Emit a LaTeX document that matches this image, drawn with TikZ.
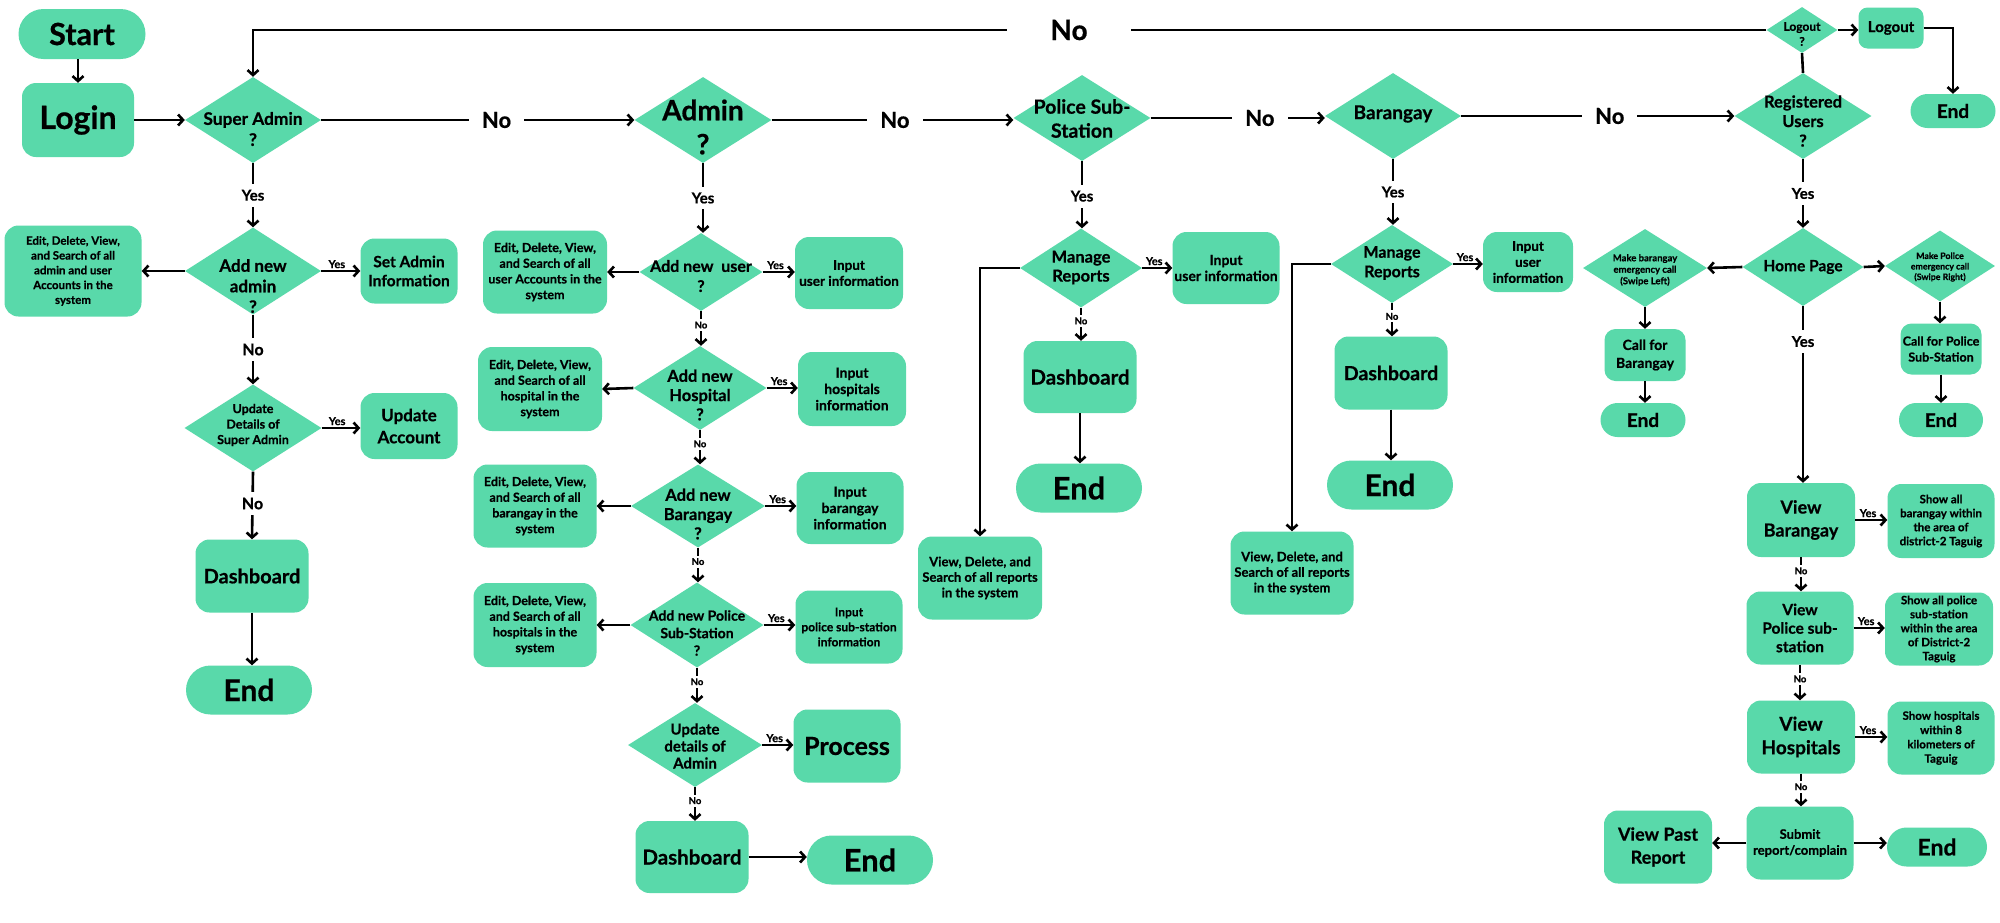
\documentclass[tikz,border=0pt]{standalone}
\usepackage{fontspec}
\setmainfont{Lato}[BoldFeatures={FakeBold=0.6}]
\usetikzlibrary{shapes.geometric,shapes.misc,arrows.meta}
\definecolor{mint}{HTML}{59D9AA}
\newcommand\myfs[2]{\fontsize{#1}{#2}\selectfont\bfseries}
\tikzset{
  sz/.style 2 args={minimum width=#1pt, minimum height=#2pt},
  box/.style={rectangle, rounded corners=14pt, fill=mint, draw=none, align=center, inner sep=1pt},
  pill/.style={rounded rectangle, fill=mint, draw=none, align=center, inner sep=1pt},
  dia/.style={diamond, fill=mint, draw=none, inner sep=0pt},
  dtxt/.style={align=center, inner sep=0pt},
  ln/.style={line width=2.6pt},
  arr/.style={line width=2.6pt, -{Straight Barb[length=5pt,width=11pt]}},
  notop/.style={fill=white, font=\myfs{28}{32}, inner xsep=43pt, inner ysep=2pt},
  nob/.style={fill=white, font=\myfs{22}{26}, inner xsep=13pt, inner ysep=2pt},
  yesb/.style={fill=white, font=\myfs{15}{18}, inner xsep=2pt, inner ysep=6pt},
  yess/.style={above, font=\myfs{11}{13}, inner sep=1.5pt},
  nos/.style={fill=white, font=\myfs{9.5}{11}, inner xsep=1pt, inner ysep=2.5pt},
}
\begin{document}
\begin{tikzpicture}[x=1pt,y=-1pt]
\fill[white] (0,0) rectangle (2000,922);
\useasboundingbox (0,0) rectangle (2000,922);

%% ---------------- Column 1 : Super Admin ----------------
\node[pill, sz={129}{50}, font=\myfs{30.5}{34}] (start) at (82,34) {Start};
\node[box, sz={112}{74}, font=\myfs{32}{36}] (login) at (78,120) {Login};
\node[dia, sz={136}{86}] (sa) at (253,120) {};
\node[dtxt, font=\myfs{17.3}{21}] (sat) at (253,129) {Super Admin\\?};
\node[dia, sz={136}{87}] (ana) at (253,271) {};
\node[dtxt, font=\myfs{17}{20.5}] (anat) at (253,286) {Add new\\admin\\?};
\node[box, sz={137}{91}, font=\myfs{11.5}{14.8}] (sae) at (73,271) {Edit, Delete, View,\\and Search of all\\admin and user\\Accounts in the\\system};
\node[box, sz={97}{65}, font=\myfs{15.5}{19}] (sai) at (409,271) {Set Admin\\Information};
\node[dia, sz={137}{87}] (uds) at (253,428) {};
\node[dtxt, font=\myfs{12.5}{15.5}] (udst) at (253,425) {Update\\Details of\\Super Admin};
\node[box, sz={97}{66}, font=\myfs{17}{22}] (uac) at (409,426) {Update\\Account};
\node[box, sz={113}{73}, font=\myfs{20}{24}] (sdb) at (252,576) {Dashboard};
\node[pill, sz={128}{49}, font=\myfs{30}{32}] (send) at (249,690) {End};

\draw[arr] (login.north |- start.south) -- (login.north);
\draw[arr] (login.east) -- (login.east -| sa.west);
\draw[arr] (sa.south) -- node[yesb] (y1) {Yes} (ana.north);
\draw[arr] (ana.west) -- (sae.east);
\draw[arr] (ana.east) -- node[yess, pos=0.4] (y2) {Yes} (sai.west);
\draw[arr] (ana.south) -- node[yesb, font=\myfs{16}{19}] (n1) {No} (uds.north);
\draw[arr] (uds.east) -- node[yess, pos=0.4] (y3) {Yes} (uds.east -| uac.west);
\draw[arr] (uds.south) -- node[yesb, font=\myfs{16}{19}, pos=0.47] (n2) {No} (sdb.north);
\draw[arr] (sdb.south) -- (sdb.south |- send.north);

%% ---------------- Column 2 : Admin ----------------
\node[dia, sz={137}{86}] (adm) at (703,120) {};
\node[dtxt, font=\myfs{28}{34}] (admt) at (703,127) {Admin\\?};
\node[dia, sz={123}{78}] (anu) at (701,272) {};
\node[dtxt, font=\myfs{16}{20}] (anut) at (701,276) {Add new\ \ user\\?};
\node[box, sz={124}{83}, font=\myfs{12.5}{15.7}] (ae1) at (545,272) {Edit, Delete, View,\\and Search of all\\user Accounts in the\\system};
\node[box, sz={108}{72}, font=\myfs{13.5}{16}] (ai1) at (849,273) {Input\\user information};
\node[dia, sz={133}{84}] (anh) at (700,388) {};
\node[dtxt, font=\myfs{16.5}{19.3}] (anht) at (700,395) {Add new\\Hospital\\?};
\node[box, sz={124}{84}, font=\myfs{12.5}{15.7}] (ae2) at (540,389) {Edit, Delete, View,\\and Search of all\\hospital in the\\system};
\node[box, sz={108}{74}, font=\myfs{14}{16.3}] (ai2) at (852,389) {Input\\hospitals\\information};
\node[dia, sz={134}{83}] (anb) at (698,506) {};
\node[dtxt, font=\myfs{16.5}{19.3}] (anbt) at (698,514) {Add new\\Barangay\\?};
\node[box, sz={123}{83}, font=\myfs{12.5}{15.7}] (ae3) at (535,506) {Edit, Delete, View,\\and Search of all\\barangay in the\\system};
\node[box, sz={107}{72}, font=\myfs{14}{16.3}] (ai3) at (850,508) {Input\\barangay\\information};
\node[dia, sz={133}{85}] (anp) at (697,625) {};
\node[dtxt, font=\myfs{14}{17.5}] (anpt) at (697,633) {Add new Police\\Sub-Station\\?};
\node[box, sz={123}{84}, font=\myfs{12.5}{15.7}] (ae4) at (535,625) {Edit, Delete, View,\\and Search of all\\hospitals in the\\system};
\node[box, sz={107}{73}, font=\myfs{12}{15}] (ai4) at (849,627) {Input\\police sub-station\\information};
\node[dia, sz={134}{84}] (uda) at (695,745) {};
\node[dtxt, font=\myfs{15}{17}] (udat) at (695,746) {Update\\details of\\Admin};
\node[box, sz={107}{73}, font=\myfs{25}{28}] (proc) at (847,746) {Process};
\node[box, sz={113}{72}, font=\myfs{20.5}{24}] (adb) at (692,857) {Dashboard};
\node[pill, sz={128}{49}, font=\myfs{31}{33}] (aend) at (870,860) {End};

\draw[arr] (sa.east) -- node[nob, pos=0.56] (n3) {No} (adm.west);
\draw[arr] (adm.south) -- node[yesb] (y4) {Yes} (adm.south |- anu.north);
\draw[arr] (anu.west) -- (ae1.east);
\draw[arr] (anu.east) -- node[yess, pos=0.4] (y5) {Yes} (anu.east -| ai1.west);
\draw[arr] (anu.south) -- node[nos, pos=0.4] (n4) {No} (anu.south |- anh.north);
\draw[arr] (anh.west) -- (ae2.east);
\draw[arr] (anh.east) -- node[yess, pos=0.4] (y6) {Yes} (anh.east -| ai2.west);
\draw[arr] (anh.south) -- node[nos, pos=0.4] (n5) {No} (anh.south |- anb.north);
\draw[arr] (anb.west) -- (ae3.east);
\draw[arr] (anb.east) -- node[yess, pos=0.4] (y7) {Yes} (anb.east -| ai3.west);
\draw[arr] (anb.south) -- node[nos, pos=0.4] (n6) {No} (anb.south |- anp.north);
\draw[arr] (anp.west) -- (ae4.east);
\draw[arr] (anp.east) -- node[yess, pos=0.4] (y8) {Yes} (anp.east -| ai4.west);
\draw[arr] (anp.south) -- node[nos, pos=0.4] (n7) {No} (anp.south |- uda.north);
\draw[arr] (uda.east) -- node[yess, pos=0.4] (y9) {Yes} (uda.east -| proc.west);
\draw[arr] (uda.south) -- node[nos, pos=0.4] (n8) {No} (uda.south |- adb.north);
\draw[arr] (adb.east) -- (adb.east -| aend.west);

%% ---------------- Column 3 : Police Sub-Station ----------------
\node[dia, sz={137}{86}] (pss) at (1082,118) {};
\node[dtxt, font=\myfs{19.5}{24}] (psst) at (1082,118.5) {Police Sub-\\Station};
\node[dia, sz={122}{79}] (pmr) at (1081,268) {};
\node[dtxt, font=\myfs{16.5}{19}] (pmrt) at (1081,267.5) {Manage\\Reports};
\node[box, sz={107}{72}, font=\myfs{14}{16}] (pin) at (1226,268) {Input\\user information};
\node[box, sz={124}{83}, font=\myfs{13}{15.5}] (pview) at (980,578) {View, Delete, and\\Search of all reports\\in the system};
\node[box, sz={113}{72}, font=\myfs{20.5}{24}] (pdb) at (1080,377) {Dashboard};
\node[pill, sz={128}{49}, font=\myfs{31}{33}] (pend) at (1079,488) {End};

\draw[arr] (adm.east) -- node[nob, pos=0.51] (n9) {No} (adm.east -| pss.west);
\draw[arr] (pss.south) -- node[yesb, pos=0.52] (y10) {Yes} (pss.south |- pmr.north);
\draw[arr] (pmr.east) -- node[yess, pos=0.4] (y11) {Yes} (pmr.east -| pin.west);
\draw[arr] (pmr.west) -| (pview.north);
\draw[arr] (pmr.south) -- node[nos, pos=0.4] (n10) {No} (pmr.south |- pdb.north);
\draw[arr] (pdb.south) -- (pdb.south |- pend.north);

%% ---------------- Column 4 : Barangay ----------------
\node[dia, sz={136}{86}] (bar) at (1393,116) {};
\node[dtxt, font=\myfs{19}{22}] (bart) at (1393,114) {Barangay};
\node[dia, sz={122}{78}] (bmr) at (1392,264) {};
\node[dtxt, font=\myfs{16}{19.5}] (bmrt) at (1392,263) {Manage\\Reports};
\node[box, sz={90}{60}, font=\myfs{13.5}{16}] (bin) at (1528,262) {Input\\user\\information};
\node[box, sz={123}{83}, font=\myfs{13}{15.5}] (bview) at (1292,573) {View, Delete, and\\Search of all reports\\in the system};
\node[box, sz={113}{73}, font=\myfs{19.5}{23}] (bdb) at (1391,373) {Dashboard};
\node[pill, sz={128}{49}, font=\myfs{30}{32}] (bend) at (1390,485) {End};

\draw[arr] (pss.east) -- node[nob, pos=0.627] (n11) {No} (pss.east -| bar.west);
\draw[arr] (bar.south) -- node[yesb] (y12) {Yes} (bar.south |- bmr.north);
\draw[arr] (bmr.east) -- node[yess, pos=0.4] (y13) {Yes} (bmr.east -| bin.west);
\draw[arr] (bmr.west) -| (bview.north);
\draw[arr] (bmr.south) -- node[nos, pos=0.4] (n12) {No} (bmr.south |- bdb.north);
\draw[arr] (bdb.south) -- (bdb.south |- bend.north);

%% ---------------- Column 5 : Registered Users ----------------
\node[dia, sz={71}{46}] (lgq) at (1802,30) {};
\node[dtxt, font=\myfs{12}{15}] (lgqt) at (1802,34) {Logout\\?};
\node[box, sz={65}{41}, rounded corners=9pt, font=\myfs{15}{18}] (lgo) at (1891,28) {Logout};
\node[pill, sz={87}{34}, font=\myfs{19}{21}] (lend) at (1953,111) {End};
\node[dia, sz={137}{86}] (reg) at (1803,116) {};
\node[dtxt, font=\myfs{16.5}{19.5}] (regt) at (1803,121) {Registered\\Users\\?};
\node[dia, sz={121}{78}] (home) at (1803,267) {};
\node[dtxt, font=\myfs{15.5}{18}] (homet) at (1803,267) {Home Page};
\node[dia, sz={124}{78}] (mbe) at (1645,268) {};
\node[dtxt, font=\myfs{9.5}{11.5}] (mbet) at (1645,270) {Make barangay\\emergency call\\(Swipe Left)};
\node[dia, sz={110}{71}] (mpe) at (1940,266) {};
\node[dtxt, font=\myfs{8.8}{10.5}] (mpet) at (1940,267) {Make Police\\emergency call\\(Swipe Right)};
\node[box, sz={81}{52}, rounded corners=11pt, font=\myfs{14}{18}] (cfb) at (1645,355) {Call for\\Barangay};
\node[pill, sz={87}{34}, font=\myfs{19}{21}] (cfbend) at (1643,420) {End};
\node[box, sz={81}{51}, rounded corners=11pt, font=\myfs{12.5}{16}] (cfp) at (1941,349) {Call for Police\\Sub-Station};
\node[pill, sz={86}{34}, font=\myfs{19}{21}] (cfpend) at (1941,420) {End};
\node[box, sz={108}{74}, font=\myfs{18}{23}] (vb) at (1801,520) {View\\Barangay};
\node[box, sz={107}{74}, font=\myfs{11.5}{14}] (sb) at (1941,521) {Show all\\barangay within\\the area of\\district-2 Taguig};
\node[box, sz={107}{73}, font=\myfs{15.5}{18.5}] (vp) at (1800,628) {View\\Police sub-\\station};
\node[box, sz={108}{73}, font=\myfs{11.5}{14}] (sp) at (1939,629) {Show all police\\sub-station\\within the area\\of District-2\\Taguig};
\node[box, sz={108}{73}, font=\myfs{19}{23.5}] (vh) at (1801,737) {View\\Hospitals};
\node[box, sz={107}{73}, font=\myfs{11.5}{14.3}] (sh) at (1941,738) {Show hospitals\\within 8\\kilometers of\\Taguig};
\node[box, sz={107}{73}, font=\myfs{13}{16}] (sub) at (1800,843) {Submit\\report/complain};
\node[box, sz={108}{73}, font=\myfs{18}{23}] (vpr) at (1658,847) {View Past\\Report};
\node[pill, sz={102}{39}, font=\myfs{23}{25}] (rend) at (1937,847) {End};

\draw[arr] (lgq.west) -| node[notop, pos=0.2304] (n13) {No} (sa.north);
\draw[arr] (lgq.east) -- (lgq.east -| lgo.west);
\draw[arr] (lgo.east) -| (lend.north);
\draw[ln] (lgq.south) -- (reg.north);
\draw[arr] (bar.east) -- node[nob, pos=0.544] (n14) {No} (reg.west);
\draw[arr] (reg.south) -- node[yesb] (y14) {Yes} (home.north);
\draw[arr] (home.west) -- (mbe.east);
\draw[arr] (home.east) -- (mpe.west);
\draw[arr] (mbe.south) -- (mbe.south |- cfb.north);
\draw[arr] (cfb.south) -- (cfb.south |- cfbend.north);
\draw[arr] (mpe.south) -- (mpe.south |- cfp.north);
\draw[arr] (cfp.south) -- (cfp.south |- cfpend.north);
\draw[arr] (home.south) -- node[yesb, pos=0.2] (y15) {Yes} (home.south |- vb.north);
\draw[arr] (vb.east) -- node[yess, pos=0.4] (y16) {Yes} (vb.east -| sb.west);
\draw[arr] (vb.south) -- node[nos, pos=0.4] (n15) {No} (vb.south |- vp.north);
\draw[arr] (vp.east) -- node[yess, pos=0.4] (y17) {Yes} (vp.east -| sp.west);
\draw[arr] (vp.south) -- node[nos, pos=0.4] (n16) {No} (vp.south |- vh.north);
\draw[arr] (vh.east) -- node[yess, pos=0.4] (y18) {Yes} (vh.east -| sh.west);
\draw[arr] (vh.south) -- node[nos, pos=0.4] (n17) {No} (vh.south |- sub.north);
\draw[arr] (sub.west) -- (sub.west -| vpr.east);
\draw[arr] (sub.east) -- (sub.east -| rend.west);
\end{tikzpicture}
\end{document}
